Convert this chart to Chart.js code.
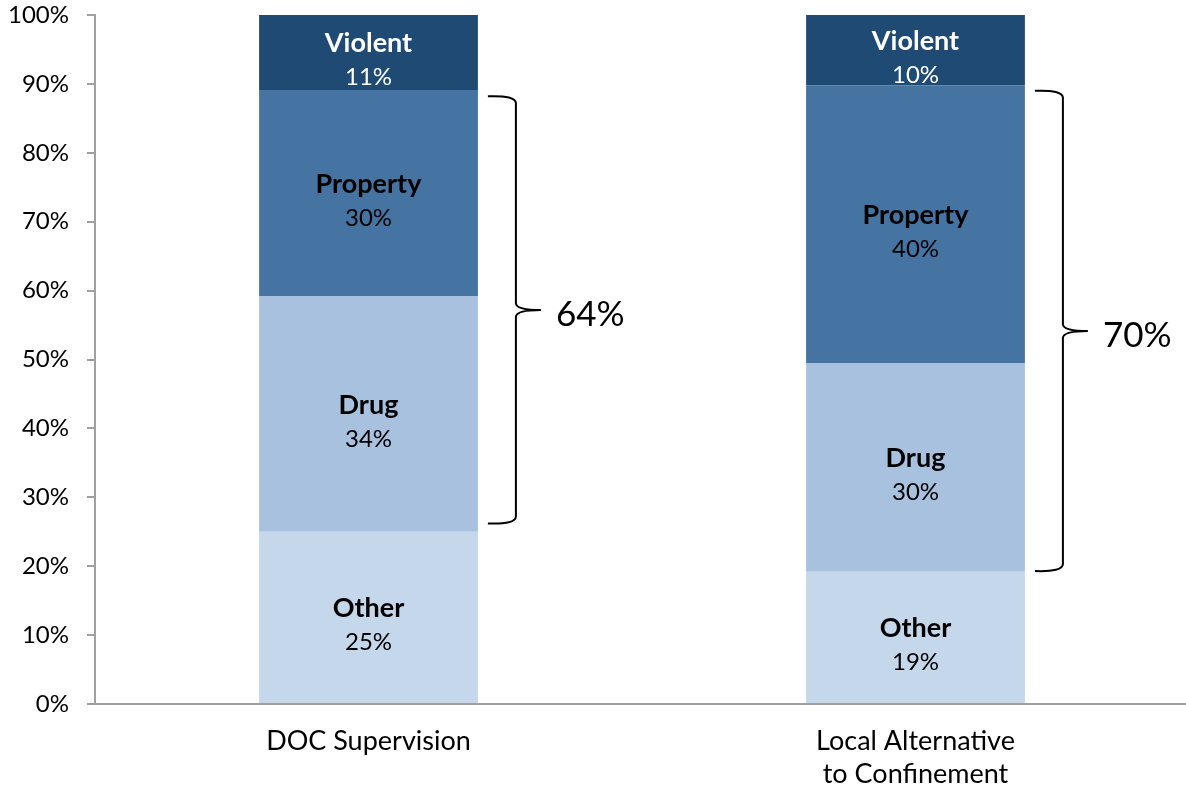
<!DOCTYPE html>
<html>
<head>
<meta charset="utf-8">
<script src="https://cdn.jsdelivr.net/npm/chart.js@4"></script>
<style>
  html, body { margin: 0; padding: 0; background: #fff; overflow: hidden; }
  #wrap { width: 1189px; height: 794px; }
</style>
</head>
<body>
<div id="wrap"><canvas id="offenseChart"></canvas></div>
<script>
// categories and segment shares (percent of each group)
var categories = [['DOC Supervision'], ['Local Alternative', 'to Confinement']];
var segmentNames = ['Other', 'Drug', 'Property', 'Violent'];
var otherValues = [25.0, 19.2];
var drugValues = [34.2, 30.3];
var propertyValues = [29.9, 40.3];
var violentValues = [10.9, 10.2];
var segmentColors = ['#c5d7eb', '#a7c1df', '#4573a2', '#1f4a73'];
var labelColors = ['#000000', '#000000', '#000000', '#ffffff'];
var yTicks = [0, 10, 20, 30, 40, 50, 60, 70, 80, 90, 100];
// brace spans (low, high in %) and the total they mark
var braceLow = [26.2, 19.3];
var braceHigh = [88.2, 89.0];
var braceLabels = ['64%', '70%'];

var fontFamily = 'Lato, "Open Sans", sans-serif';

var allValues = [otherValues, drugValues, propertyValues, violentValues];
var datasets = [];
for (var i = 0; i < segmentNames.length; i++) {
    datasets.push({
        label: segmentNames[i],
        data: allValues[i],
        backgroundColor: segmentColors[i],
        borderWidth: 0,
        barPercentage: 0.4,
        categoryPercentage: 1.0
    });
}

// segment name + percentage inside each block
var segmentLabels = {
    id: 'segmentLabels',
    afterDatasetsDraw: function(chart) {
        var ctx = chart.ctx;
        ctx.save();
        ctx.textAlign = 'center';
        ctx.textBaseline = 'middle';
        chart.data.datasets.forEach(function(ds, di) {
            var meta = chart.getDatasetMeta(di);
            meta.data.forEach(function(bar, idx) {
                var mid = (bar.y + bar.base) / 2;
                ctx.fillStyle = labelColors[di];
                ctx.font = 'bold 27px ' + fontFamily;
                ctx.fillText(ds.label, bar.x, mid - 9);
                ctx.font = '24px ' + fontFamily;
                ctx.fillText(Math.round(ds.data[idx]) + '%', bar.x, mid + 25);
            });
        });
        ctx.restore();
    }
};

// curly braces to the right of each bar
var braces = {
    id: 'braces',
    afterDraw: function(chart) {
        var ctx = chart.ctx;
        var yScale = chart.scales.y;
        var meta = chart.getDatasetMeta(chart.data.datasets.length - 1);
        ctx.save();
        ctx.strokeStyle = '#000';
        ctx.lineWidth = 2;
        meta.data.forEach(function(bar, idx) {
            var right = bar.x + bar.width / 2;
            var x0 = right + 10, xl = right + 38, xt = right + 63;
            var top = yScale.getPixelForValue(braceHigh[idx]);
            var bottom = yScale.getPixelForValue(braceLow[idx]);
            var mid = (top + bottom) / 2;
            var r = 7;
            ctx.beginPath();
            ctx.moveTo(x0, top);
            ctx.quadraticCurveTo(xl, top - 1, xl, top + r);
            ctx.lineTo(xl, mid - r);
            ctx.quadraticCurveTo(xl, mid, xt, mid);
            ctx.moveTo(xt, mid);
            ctx.quadraticCurveTo(xl, mid, xl, mid + r);
            ctx.lineTo(xl, bottom - r);
            ctx.quadraticCurveTo(xl, bottom + 1, x0, bottom);
            ctx.stroke();
            ctx.fillStyle = '#000';
            ctx.font = '35px ' + fontFamily;
            ctx.textAlign = 'left';
            ctx.textBaseline = 'middle';
            ctx.fillText(braceLabels[idx], right + 78, mid + 5);
        });
        ctx.restore();
    }
};

var ctx = document.getElementById('offenseChart');
var chart = new Chart(ctx, {
    type: 'bar',
    data: { labels: categories, datasets: datasets },
    options: {
        responsive: true,
        maintainAspectRatio: false,
        animation: false,
        layout: { padding: { top: 15, left: 0, right: 0, bottom: 0 } },
        plugins: {
            legend: { display: false },
            tooltip: { enabled: false }
        },
        scales: {
            x: {
                stacked: true,
                grid: { display: false, drawTicks: false },
                border: { display: true, color: '#a0a0a0', width: 2 },
                ticks: {
                    color: '#000',
                    font: { family: fontFamily, size: 27, lineHeight: 1.25 },
                    padding: 20,
                    maxRotation: 0
                },
                afterFit: function(scale) { scale.height = 90; }
            },
            y: {
                stacked: true,
                min: 0,
                max: 100,
                afterBuildTicks: function(scale) {
                    scale.ticks = yTicks.map(function(v) { return { value: v }; });
                },
                grid: {
                    display: true,
                    drawOnChartArea: false,
                    drawTicks: true,
                    tickLength: 8,
                    color: '#a0a0a0',
                    lineWidth: 2
                },
                border: { display: true, color: '#a0a0a0', width: 2 },
                ticks: {
                    color: '#000',
                    font: { family: fontFamily, size: 24 },
                    padding: 18,
                    callback: function(v) { return v + '%'; }
                },
                afterFit: function(scale) {
                    scale.width = 95;
                    scale.paddingTop = 0;
                    scale.paddingBottom = 0;
                }
            }
        }
    },
    plugins: [segmentLabels, braces]
});
</script>
</body>
</html>
